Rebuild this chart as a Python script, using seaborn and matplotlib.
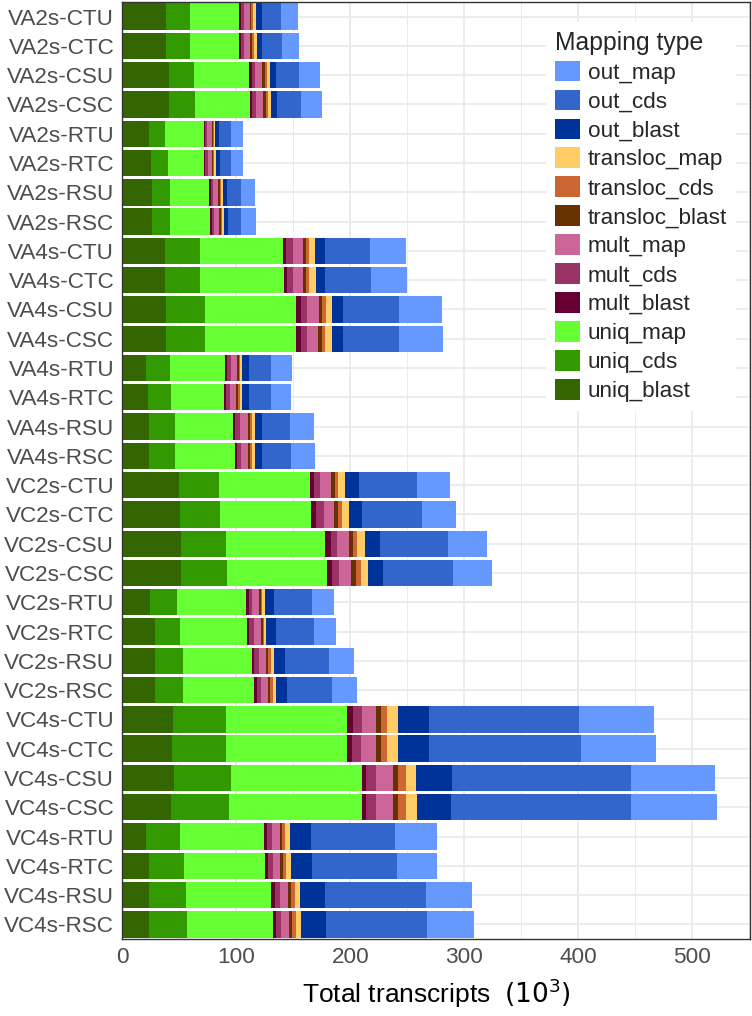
import numpy as np
import pandas as pd
import seaborn as sns
import matplotlib.pyplot as plt
from matplotlib.ticker import MultipleLocator

# Sample names (top to bottom)
samples = [
    'VA2s-CTU', 'VA2s-CTC', 'VA2s-CSU', 'VA2s-CSC', 'VA2s-RTU', 'VA2s-RTC', 'VA2s-RSU', 'VA2s-RSC',
    'VA4s-CTU', 'VA4s-CTC', 'VA4s-CSU', 'VA4s-CSC', 'VA4s-RTU', 'VA4s-RTC', 'VA4s-RSU', 'VA4s-RSC',
    'VC2s-CTU', 'VC2s-CTC', 'VC2s-CSU', 'VC2s-CSC', 'VC2s-RTU', 'VC2s-RTC', 'VC2s-RSU', 'VC2s-RSC',
    'VC4s-CTU', 'VC4s-CTC', 'VC4s-CSU', 'VC4s-CSC', 'VC4s-RTU', 'VC4s-RTC', 'VC4s-RSU', 'VC4s-RSC',
]

# Transcript counts (10^3) per mapping type, same order as samples
uniq_blast = [38.4, 38.4, 40.5, 40.5, 22.9, 25.3, 25.8, 25.8,
              37.0, 37.6, 38.4, 38.4, 20.9, 22.3, 22.9, 22.9,
              49.5, 50.1, 51.0, 51.0, 24.4, 28.2, 28.2, 28.2,
              44.0, 43.4, 44.9, 42.5, 20.3, 23.2, 23.2, 23.2]
uniq_cds = [21.1, 21.1, 22.2, 22.8, 14.7, 14.6, 15.6, 15.6,
            31.0, 30.4, 34.3, 34.3, 21.1, 20.6, 22.8, 22.8,
            35.1, 35.8, 39.5, 40.6, 23.4, 22.5, 24.6, 24.6,
            47.1, 47.7, 50.3, 50.7, 30.1, 30.4, 32.2, 33.4]
uniq_map = [42.4, 42.7, 48.3, 48.3, 33.9, 31.6, 34.8, 35.7,
            72.8, 73.4, 79.9, 79.9, 47.9, 46.5, 51.2, 52.7,
            79.7, 79.9, 87.5, 87.9, 60.9, 58.5, 60.8, 62.6,
            106.2, 105.9, 114.5, 116.5, 74.1, 71.4, 75.2, 75.4]
mult_blast = [1.8, 1.8, 2.2, 2.2, 1.2, 1.2, 1.4, 1.4,
              3.0, 3.0, 3.8, 3.8, 1.8, 1.8, 2.2, 2.0,
              3.5, 4.3, 4.7, 4.4, 2.0, 2.2, 2.2, 2.2,
              4.5, 4.6, 4.3, 4.3, 2.6, 2.6, 2.9, 2.8]
mult_cds = [2.6, 2.7, 3.4, 3.4, 1.8, 1.9, 2.2, 2.2,
            5.8, 5.6, 5.6, 5.4, 3.2, 3.1, 4.0, 3.8,
            5.8, 6.5, 5.9, 6.1, 3.3, 3.6, 3.6, 3.8,
            7.9, 7.9, 8.8, 8.8, 4.1, 4.2, 4.4, 4.2]
mult_map = [5.3, 5.3, 5.9, 6.1, 3.7, 3.9, 4.2, 4.2,
            8.8, 8.4, 10.4, 10.0, 5.5, 5.6, 7.0, 5.9,
            9.1, 8.7, 9.9, 10.3, 5.8, 6.4, 6.2, 6.3,
            13.1, 12.6, 14.6, 14.6, 6.7, 6.7, 7.3, 7.1]
transloc_blast = [1.5, 1.6, 2.2, 2.2, 0.9, 1.0, 1.2, 1.1,
                  2.9, 2.9, 2.9, 3.0, 1.4, 1.5, 1.7, 1.7,
                  3.5, 3.8, 3.8, 4.4, 1.5, 1.7, 2.2, 2.0,
                  4.4, 5.0, 4.4, 4.4, 2.4, 2.5, 3.0, 3.0]
transloc_cds = [1.4, 1.6, 2.0, 2.1, 0.8, 1.0, 1.2, 1.1,
                2.4, 2.4, 3.0, 3.2, 1.2, 1.3, 1.6, 1.6,
                2.9, 3.5, 3.8, 4.1, 1.4, 1.3, 2.1, 1.9,
                4.9, 5.0, 6.5, 6.5, 2.0, 2.2, 2.9, 2.9]
transloc_map = [2.4, 3.2, 3.0, 3.0, 1.2, 1.8, 1.8, 1.7,
                5.3, 5.8, 5.9, 6.2, 2.2, 2.5, 2.6, 2.6,
                6.5, 5.9, 6.5, 6.7, 2.1, 1.9, 3.1, 2.8,
                9.4, 9.7, 9.6, 10.0, 4.4, 4.7, 5.0, 5.0]
out_blast = [5.8, 4.4, 4.7, 5.3, 3.3, 3.0, 3.5, 3.7,
             8.7, 8.4, 9.3, 9.3, 5.5, 5.5, 6.1, 6.1,
             11.7, 11.7, 13.7, 13.1, 7.9, 8.7, 9.6, 9.9,
             27.2, 27.2, 31.6, 29.8, 18.4, 18.7, 21.3, 21.9]
out_cds = [16.1, 17.0, 20.5, 20.5, 10.5, 10.2, 12.0, 11.8,
           39.2, 39.8, 49.2, 49.2, 19.9, 19.9, 25.2, 25.8,
           51.2, 52.4, 59.5, 61.5, 33.6, 33.0, 38.6, 39.6,
           132.0, 133.2, 156.6, 158.0, 74.4, 73.8, 89.0, 88.4]
out_map = [15.2, 15.2, 18.7, 18.7, 10.5, 10.5, 12.3, 12.6,
           31.7, 31.6, 37.7, 38.3, 17.9, 17.3, 20.7, 20.8,
           29.0, 29.8, 34.1, 34.2, 19.3, 19.7, 22.0, 21.9,
           65.6, 65.6, 73.7, 75.5, 36.0, 35.1, 40.1, 41.2]

# stacking order, left to right
types = ['uniq_blast', 'uniq_cds', 'uniq_map',
         'mult_blast', 'mult_cds', 'mult_map',
         'transloc_blast', 'transloc_cds', 'transloc_map',
         'out_blast', 'out_cds', 'out_map']
palette = {
    'out_map': '#6699FF', 'out_cds': '#3366CC', 'out_blast': '#003399',
    'transloc_map': '#FFCC66', 'transloc_cds': '#CC6633', 'transloc_blast': '#663300',
    'mult_map': '#CC6699', 'mult_cds': '#993366', 'mult_blast': '#660033',
    'uniq_map': '#66FF33', 'uniq_cds': '#339900', 'uniq_blast': '#336600',
}

df = pd.DataFrame({
    'sample': samples,
    'uniq_blast': uniq_blast, 'uniq_cds': uniq_cds, 'uniq_map': uniq_map,
    'mult_blast': mult_blast, 'mult_cds': mult_cds, 'mult_map': mult_map,
    'transloc_blast': transloc_blast, 'transloc_cds': transloc_cds, 'transloc_map': transloc_map,
    'out_blast': out_blast, 'out_cds': out_cds, 'out_map': out_map,
})
# cumulative sums -> overplot from the longest to the shortest
cum = df[types].cumsum(axis=1)
cum['sample'] = df['sample']

sns.set_theme(style='whitegrid')
plt.rcParams['font.family'] = ['Liberation Sans', 'DejaVu Sans']

fig, ax = plt.subplots(figsize=(7.52, 10.16), dpi=100)
fig.subplots_adjust(left=122.5 / 752, right=750 / 752, top=1 - 2 / 1016, bottom=1 - 939 / 1016)

for t in reversed(types):
    sns.barplot(data=cum, x=t, y='sample', orient='h', color=palette[t],
                saturation=1, width=0.9, errorbar=None, label=t, ax=ax,
                linewidth=0, zorder=2)

ax.set_xlim(0, 550.5)
ax.set_ylim(31.5, -0.5)
ax.xaxis.set_major_locator(MultipleLocator(100))
ax.xaxis.set_minor_locator(MultipleLocator(50))
ax.grid(True, which='major', axis='both', color='#EBEBEB', linewidth=1.3, zorder=0)
ax.grid(True, which='minor', axis='x', color='#EBEBEB', linewidth=0.7, zorder=0)
ax.set_axisbelow(True)

for s in ax.spines.values():
    s.set_color('#333333')
    s.set_linewidth(1.0)

ax.tick_params(axis='both', which='major', length=3.5, width=1, color='#333333',
               labelsize=16.2, labelcolor='#4D4D4D', pad=2.5)
ax.tick_params(axis='both', which='minor', length=0)

ax.set_ylabel('')
ax.set_xlabel(r'Total transcripts  $\left(10^3\right)$', fontsize=19, color='black', labelpad=6)

leg = ax.legend(title='Mapping type', loc='upper left', bbox_to_anchor=(0.657, 0.991),
                fontsize=16.2, title_fontsize=17.8, frameon=True, facecolor='white',
                edgecolor='none', framealpha=1, handlelength=1.1, handleheight=1.03,
                labelspacing=0.265, handletextpad=0.35, borderpad=0.4, alignment='left',
                fancybox=False)

fig.savefig('out.png', dpi=100)
